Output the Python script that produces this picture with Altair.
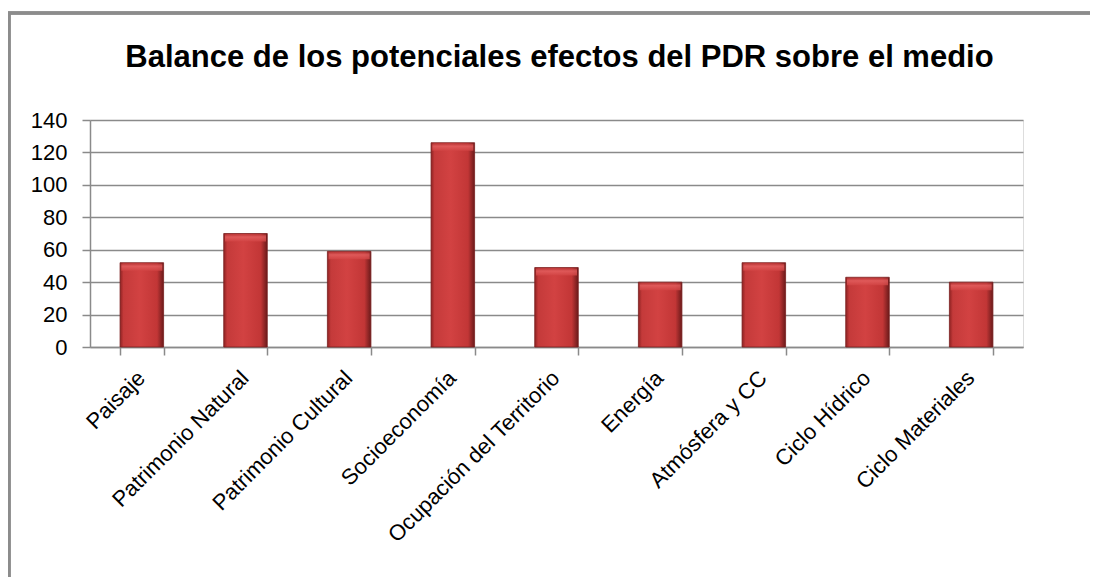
import altair as alt
import pandas as pd

categories = ["Paisaje", "Patrimonio Natural", "Patrimonio Cultural", "Socioeconomía",
              "Ocupación del Territorio", "Energía", "Atmósfera y CC", "Ciclo Hídrico",
              "Ciclo Materiales"]
values = [52, 70, 59, 126, 49, 40, 52, 43, 40]
y_ticks = [0, 20, 40, 60, 80, 100, 120, 140]
title_text = ["Balance de los potenciales efectos del PDR sobre el medio"]

df = pd.DataFrame({"cat": categories, "val": values})
df_title = pd.DataFrame({"t": title_text})

W, H = 933, 227
grid_col = "#8a8a8a"
FONT = "Liberation Sans, Arial, sans-serif"

bar_fill = alt.Gradient(
    gradient="linear",
    x1=0, x2=1, y1=0, y2=0,
    stops=[
        alt.GradientStop(color="#8e2222", offset=0),
        alt.GradientStop(color="#c43a3a", offset=0.08),
        alt.GradientStop(color="#d24242", offset=0.45),
        alt.GradientStop(color="#c23636", offset=0.85),
        alt.GradientStop(color="#6a1a1a", offset=1),
    ],
)
cap_fill = alt.Gradient(
    gradient="linear",
    x1=0, x2=0, y1=0, y2=1,
    stops=[
        alt.GradientStop(color="#b83838", offset=0),
        alt.GradientStop(color="#e46060", offset=0.35),
        alt.GradientStop(color="#d24444", offset=1),
    ],
)

x_enc = alt.X("cat:N", sort=categories, title=None,
              scale=alt.Scale(paddingInner=0.58, paddingOuter=0.29),
              axis=alt.Axis(labelAngle=-45, labelAlign="right", labelBaseline="top",
                            labelFont=FONT, labelFontSize=22, labelColor="#000000",
                            labelPadding=12, labelOffset=-8, labelLimit=0, tickBand="extent",
                            tickSize=8, tickColor=grid_col, tickWidth=1.5, domainColor=grid_col,
                            domainWidth=1.5, grid=False))
y_enc = alt.Y("val:Q", title=None,
              scale=alt.Scale(domain=[0, 140], nice=False),
              axis=alt.Axis(values=y_ticks, labelFont=FONT, labelFontSize=22,
                            labelColor="#000000", labelPadding=15, tickSize=8, tickColor=grid_col,
                            tickWidth=1.5, domainColor=grid_col, domainWidth=1.5,
                            grid=True, gridColor=grid_col, gridWidth=1.5))

bars = alt.Chart(df).mark_bar(fill=bar_fill, stroke="#7a2020", strokeWidth=0.8).encode(
    x=x_enc, y=y_enc
)
caps = alt.Chart(df).mark_tick(fill=cap_fill, thickness=7, size=41, yOffset=4.5, opacity=0.8).encode(
    x=x_enc, y=y_enc
)

frame_top = alt.Chart(df).mark_rule(color="#8c8c8c", strokeWidth=2.5).encode(
    x=alt.value(-82), x2=alt.value(W + 80), y=alt.value(-107)
)
frame_left = alt.Chart(df).mark_rule(color="#8c8c8c", strokeWidth=2.5).encode(
    x=alt.value(-81), y=alt.value(-108), y2=alt.value(H + 240)
)

title = alt.Chart(df_title).mark_text(
    font=FONT, fontSize=31, fontWeight="bold", color="#000000",
    align="center", baseline="alphabetic"
).encode(text="t:N", x=alt.value(W / 2 + 3), y=alt.value(-53))

chart = alt.layer(frame_top, frame_left, bars, caps, title).properties(
    width=W, height=H,
    autosize=alt.AutoSizeParams(type="none"),
    padding={"left": 82, "top": 112, "right": 67, "bottom": 230},
).configure_view(strokeWidth=0, stroke="transparent").configure(background="#ffffff")

chart.save("out.html", embed_options={"renderer": "svg", "actions": False})
